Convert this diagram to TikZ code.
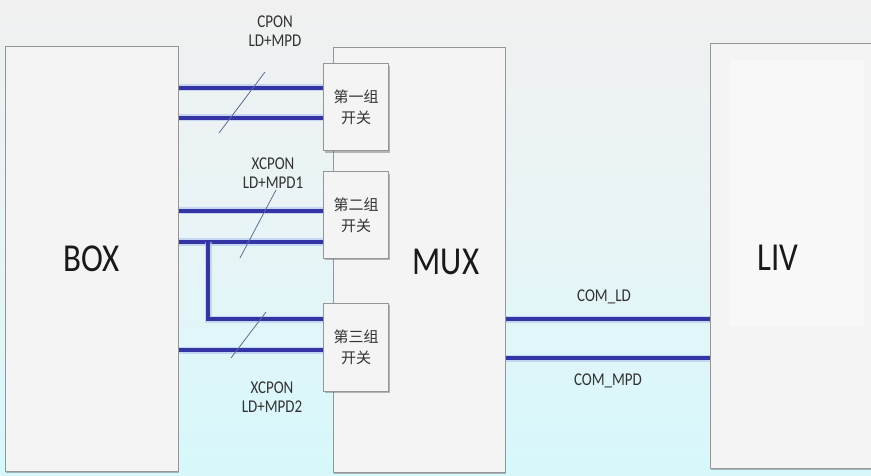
\documentclass[tikz,border=0pt]{standalone}
\usepackage{fontspec}
\setmainfont{Carlito}
\newfontfamily\cjk{Noto Sans CJK SC}
\usetikzlibrary{shadows}
\definecolor{busblue}{RGB}{52,52,165}
\definecolor{busglow}{RGB}{175,195,240}
\definecolor{boxfill}{RGB}{244,244,244}
\definecolor{boxline}{RGB}{150,150,150}
\definecolor{labeltext}{RGB}{50,50,50}
\definecolor{slashcol}{RGB}{90,110,150}
\definecolor{bgtop}{RGB}{240,240,240}
\definecolor{bgbot}{RGB}{214,248,251}
\newcommand{\vst}[1]{\scalebox{1}[1.2]{#1}}
\tikzset{
  blockbox/.style={draw=boxline, line width=1pt, fill=boxfill, rectangle, inner sep=0pt,
    drop shadow={shadow xshift=1pt, shadow yshift=-1.8pt, opacity=0.45, fill=black!60}},
  swbox/.style={blockbox, align=center, font=\cjk\fontsize{15}{21}\selectfont, text=labeltext},
  bigtext/.style={font=\fontsize{33}{36}\selectfont, text=black!90},
  lbl/.style={font=\fontsize{15}{20}\selectfont, text=labeltext, align=center},
  bus/.style={busblue, line width=3.2pt, preaction={draw=busglow, line width=7pt, opacity=0.6}},
  slash/.style={slashcol, line width=0.8pt},
}
\begin{document}
\begin{tikzpicture}[x=1pt,y=-1pt]
\useasboundingbox (0,0) rectangle (871,476);
\clip (0,0) rectangle (871,476);
\shade[top color=bgtop, bottom color=bgbot, middle color={rgb,255:red,232;green,244;blue,246}] (0,0) rectangle (871,476);
% main blocks
\node[blockbox, minimum width=173pt, minimum height=424pt] (box) at (91.5,259) {};
\node[blockbox, minimum width=172pt, minimum height=424pt] (mux) at (419,260) {};
\node[blockbox, minimum width=200pt, minimum height=424pt] (liv) at (810,256) {};
\fill[white, opacity=0.45] (730,60) rectangle (864,326);
\node[bigtext] (boxlbl) at (box.center) {\vst{BOX}};
\node[bigtext] (muxlbl) at (446,262) {\vst{MUX}};
\node[bigtext] (livlbl) at (778,258) {\vst{LIV}};
% switch boxes
\node[swbox, minimum width=65pt, minimum height=87pt] (sw1) at (356,107.5) {第一组\\开关};
\node[swbox, minimum width=65pt, minimum height=86pt] (sw2) at (356,215) {第二组\\开关};
\node[swbox, minimum width=65pt, minimum height=88pt] (sw3) at (356,347) {第三组\\开关};
% line levels
\coordinate (y1) at (0,88);
\coordinate (y2) at (0,118);
\coordinate (y3) at (0,211);
\coordinate (y4) at (0,242);
\coordinate (y5) at (0,319);
\coordinate (y6) at (0,350);
\coordinate (j) at (208,242);
\coordinate (c1) at (0,319);
\coordinate (c2) at (0,358);
% buses
\draw[bus] (box.east |- y1) -- (sw1.west |- y1);
\draw[bus] (box.east |- y2) -- (sw1.west |- y2);
\draw[bus] (box.east |- y3) -- (sw2.west |- y3);
\draw[bus] (box.east |- y4) -- (sw2.west |- y4);
\draw[bus] (j) |- (sw3.west |- y5);
\draw[bus] (box.east |- y6) -- (sw3.west |- y6);
\draw[bus] (mux.east |- c1) -- (liv.west |- c1);
\draw[bus] (mux.east |- c2) -- (liv.west |- c2);
% slash marks
\coordinate (s1a) at (219,133); \coordinate (s1b) at (265,72);
\coordinate (s2a) at (240,258); \coordinate (s2b) at (276,190);
\coordinate (s3a) at (231,358); \coordinate (s3b) at (266,312);
\draw[slash] (s1a) -- (s1b);
\draw[slash] (s2a) -- (s2b);
\draw[slash] (s3a) -- (s3b);
% labels
\node[lbl] (l1) at (275,31) {\vst{CPON}\\[-1pt]\vst{LD+MPD}};
\node[lbl] (l2) at (273,173) {\vst{XCPON}\\[-1pt]\vst{LD+MPD1}};
\node[lbl] (l3) at (272,397) {\vst{XCPON}\\[-1pt]\vst{LD+MPD2}};
\node[lbl] (l4) at (604,297) {\vst{COM\_LD}};
\node[lbl] (l5) at (608,381) {\vst{COM\_MPD}};
\end{tikzpicture}
\end{document}
